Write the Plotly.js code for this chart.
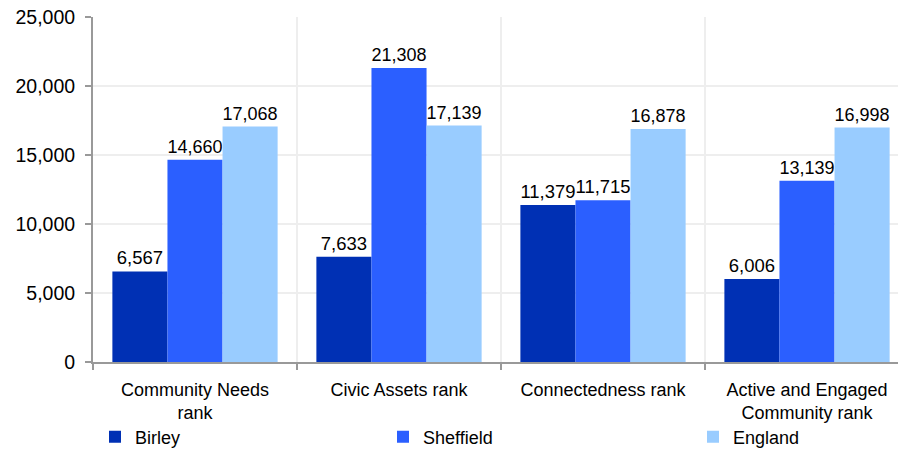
<!DOCTYPE html>
<html>
<head>
<meta charset="utf-8">
<script src="https://cdn.plot.ly/plotly-3.0.1.min.js"></script>
<style>html,body{margin:0;padding:0;background:#fff;} #chart{width:898px;height:449px;}</style>
</head>
<body>
<div id="chart"></div>
<script>
const categories = ["Community Needs<br>rank", "Civic Assets rank", "Connectedness rank", "Active and Engaged<br>Community rank"];
const birley = [6567, 7633, 11379, 6006];
const sheffield = [14660, 21308, 11715, 13139];
const england = [17068, 17139, 16878, 16998];
const seriesNames = ["Birley", "Sheffield", "England"];
const seriesColors = ["#0030B4", "#2B5FFF", "#99CCFF"];
const yTicks = [0, 5000, 10000, 15000, 20000, 25000];

const legendIds = ["legend", "legend2", "legend3"];
const legendX = [95, 383, 693];
const allSeries = [birley, sheffield, england];
const traces = allSeries.map((vals, i) => ({
  type: "bar",
  name: seriesNames[i],
  x: categories,
  y: vals,
  legend: legendIds[i],
  marker: {color: seriesColors[i]},
  text: vals.map(v => v.toLocaleString("en-US")),
  textposition: "outside",
  textfont: {family: "Liberation Sans, Arial, sans-serif", size: 18.5, color: "#000"},
  cliponaxis: false,
  hoverinfo: "none"
}));

const layout = {
  width: 898, height: 449,
  margin: {l: 93, r: 0, t: 17, b: 87, autoexpand: false},
  paper_bgcolor: "#fff", plot_bgcolor: "#fff",
  barmode: "group",
  bargap: 0.19, bargroupgap: 0,
  font: {family: "Liberation Sans, Arial, sans-serif", size: 18, color: "#000"},
  xaxis: {
    type: "category",
    range: [-0.5, 3.446],
    tickson: "boundaries",
    ticks: "outside", ticklen: 6, tickcolor: "#999", tickwidth: 2,
    ticklabelstandoff: 10,
    showgrid: true, gridcolor: "#eeeeee", gridwidth: 2,
    showline: true, linecolor: "#999", linewidth: 2,
    tickfont: {size: 18},
    automargin: false
  },
  yaxis: {
    range: [0, 25000],
    tickvals: yTicks,
    tickformat: ",",
    ticks: "outside", ticklen: 6, tickcolor: "#999", tickwidth: 2,
    ticklabelstandoff: 6,
    showgrid: true, gridcolor: "#eeeeee", gridwidth: 2,
    showline: true, linecolor: "#999", linewidth: 2,
    zeroline: false,
    tickfont: {size: 19.5},
    automargin: false
  },
  showlegend: true
};
legendIds.forEach((id, i) => {
  layout[id] = {
    orientation: "h",
    xref: "container", yref: "container",
    x: legendX[i] / 898, xanchor: "left",
    y: (449 - 437) / 449, yanchor: "middle",
    font: {size: 18},
    itemwidth: 30,
    bgcolor: "rgba(0,0,0,0)"
  };
});

Plotly.newPlot("chart", traces, layout, {staticPlot: true, displayModeBar: false});
</script>
</body>
</html>
